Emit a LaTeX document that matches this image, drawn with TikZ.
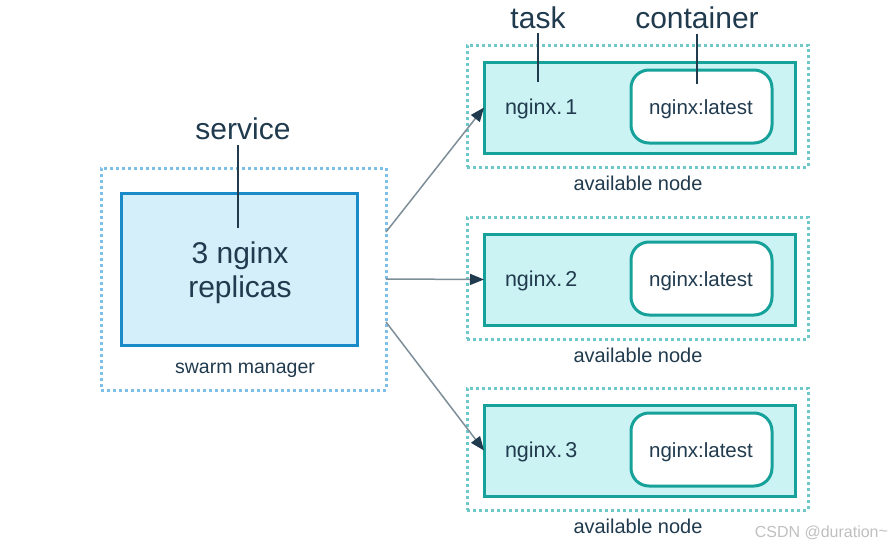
\documentclass[tikz,border=0pt]{standalone}
\usepackage{fontspec}
\setmainfont{Liberation Sans}
\usetikzlibrary{arrows.meta}
\definecolor{ink}{HTML}{203A4E}
\definecolor{mgrline}{HTML}{1A8AC8}
\definecolor{mgrfill}{HTML}{D4EEFA}
\definecolor{mgrdots}{HTML}{7DBFE6}
\definecolor{tealline}{HTML}{17A19B}
\definecolor{tealfill}{HTML}{CCF3F3}
\definecolor{tealdots}{HTML}{6FC8C8}
\definecolor{arrowline}{HTML}{7E8E99}
\definecolor{mark}{HTML}{C0C0C0}
\tikzstyle{every node}=[text=ink, inner sep=0pt, outer sep=0pt]
\tikzstyle{dotbox}=[draw, line width=3pt, dash pattern=on 3pt off 3pt]
\tikzstyle{taskbox}=[draw=tealline, fill=tealfill, line width=3pt, minimum width=311pt, minimum height=91pt]
\tikzstyle{ctrbox}=[draw=tealline, fill=white, line width=3pt, rounded corners=18pt, minimum width=141pt, minimum height=73pt]
\tikzstyle{pointer}=[draw=ink, line width=1.5pt]
\tikzstyle{send}=[draw=arrowline, line width=1.5pt, -{Triangle[length=14pt, width=11pt, color=ink]}]

\begin{document}
\begin{tikzpicture}[x=1pt, y=-1pt]
    \useasboundingbox[fill=white] (0,0) rectangle (895,546);
% Manager
    \node[dotbox, draw=mgrdots, minimum width=285pt, minimum height=222pt] (mgr) at (243.5,279) {};
    \node[draw=mgrline, fill=mgrfill, line width=3pt, minimum width=236pt, minimum height=152pt] (svc) at (239,269) {};
    \node[anchor=base, align=center, font=\fontsize{30}{34}\selectfont] (replicas) at (240,297) {3 nginx\\replicas};
    \node[anchor=base, font=\fontsize{19.5}{22}\selectfont] (mgrlabel) at (245,373) {swarm manager};
    \node[anchor=base, font=\fontsize{30}{34}\selectfont] (service) at (243,139) {service};
    \coordinate (svctip) at (238,228);
% Available nodes
    \node[dotbox, draw=tealdots, minimum width=341pt, minimum height=122pt] (avail1) at (637.5,106) {};
    \node[dotbox, draw=tealdots, minimum width=341pt, minimum height=122pt] (avail2) at (637.5,278) {};
    \node[dotbox, draw=tealdots, minimum width=341pt, minimum height=122pt] (avail3) at (637.5,449) {};
    \node[taskbox] (task1) at (639.5,107.5) {};
    \node[taskbox] (task2) at (639.5,279.5) {};
    \node[taskbox] (task3) at (639.5,450.5) {};
    \node[ctrbox] (ctr1) at (701.5,106.5) {};
    \node[ctrbox] (ctr2) at (701.5,278.5) {};
    \node[ctrbox] (ctr3) at (701.5,449.5) {};
    \node[anchor=base west, font=\fontsize{21.5}{24}\selectfont] (name1) at (505,114) {nginx.\kern3pt 1};
    \node[anchor=base west, font=\fontsize{21.5}{24}\selectfont] (name2) at (505,286) {nginx.\kern3pt 2};
    \node[anchor=base west, font=\fontsize{21.5}{24}\selectfont] (name3) at (505,457) {nginx.\kern3pt 3};
    \node[anchor=base, font=\fontsize{20.5}{24}\selectfont] (img1) at (701,114) {nginx:latest};
    \node[anchor=base, font=\fontsize{20.5}{24}\selectfont] (img2) at (701,286) {nginx:latest};
    \node[anchor=base, font=\fontsize{20.5}{24}\selectfont] (img3) at (701,457) {nginx:latest};
    \node[anchor=base, font=\fontsize{20}{24}\selectfont] (availlabel1) at (638,190) {available node};
    \node[anchor=base, font=\fontsize{20}{24}\selectfont] (availlabel2) at (638,362) {available node};
    \node[anchor=base, font=\fontsize{20}{24}\selectfont] (availlabel3) at (638,533) {available node};
% Labels on top
    \node[anchor=base, font=\fontsize{30}{34}\selectfont] (task) at (538,28) {task};
    \node[anchor=base, font=\fontsize{30}{34}\selectfont] (container) at (697,28) {container};
    \coordinate (tasktip) at (538,82);
    \coordinate (ctrtip) at (697,84);
    \draw[pointer] (238,145) -- (svctip);
    \draw[pointer] (538,33) -- (tasktip);
    \draw[pointer] (697,34) -- (ctrtip);
% Scheduling arrows
    \draw[send] ([yshift=47pt]mgr.east) -- (task1.west);
    \draw[send] (mgr.east) -- (task2.west);
    \draw[send] ([yshift=-43pt]mgr.east) -- (task3.west);
% Watermark
    \node[anchor=base east, text=mark, font=\fontsize{16}{18}\selectfont] (watermark) at (888,537) {CSDN @duration\raisebox{1pt}{\char"007E}};
\end{tikzpicture}
\end{document}
